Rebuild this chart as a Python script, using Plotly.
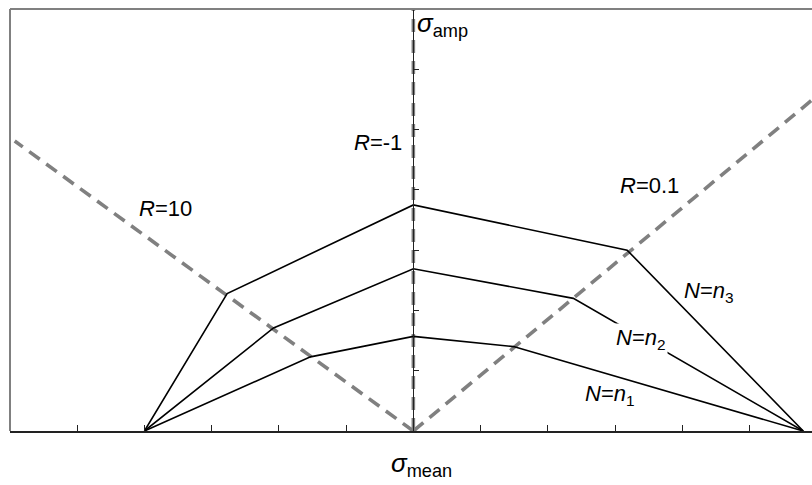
import plotly.graph_objects as go

# ---- data (units of axis ticks) ----
n3_x = [-4.0, -2.77, 0.0, 3.18, 5.80]
n3_y = [0.0, 2.28, 3.75, 3.00, 0.0]
n2_x = [-4.0, -2.08, 0.0, 2.38, 5.80]
n2_y = [0.0, 1.71, 2.69, 2.20, 0.0]
n1_x = [-4.0, -1.53, 0.0, 1.49, 5.80]
n1_y = [0.0, 1.23, 1.57, 1.40, 0.0]

r10_x = [0.0, -5.93]
r10_y = [0.0, 4.81]
r01_x = [0.0, 5.93]
r01_y = [0.0, 5.49]
rm1_x = [0.0, 0.0]
rm1_y = [0.0, 7.0]

x_range = [-6.0, 5.93]
y_range = [0.0, 7.0]

FONT = "Liberation Sans, Arial, sans-serif"
GRAY = "#808080"

fig = go.Figure()

for xs, ys in [(r10_x, r10_y), (r01_x, r01_y), (rm1_x, rm1_y)]:
    fig.add_trace(go.Scatter(x=xs, y=ys, mode="lines",
                             line=dict(color=GRAY, width=3.6, dash="13px,8px"),
                             hoverinfo="skip", showlegend=False))

for xs, ys in [(n1_x, n1_y), (n2_x, n2_y), (n3_x, n3_y)]:
    fig.add_trace(go.Scatter(x=xs, y=ys, mode="lines",
                             line=dict(color="black", width=1.6),
                             hoverinfo="skip", showlegend=False))

y_pos = (0 - x_range[0]) / (x_range[1] - x_range[0])

fig.update_layout(
    width=812, height=485, autosize=False,
    margin=dict(l=10, r=0, t=9, b=54),
    plot_bgcolor="white", paper_bgcolor="white",
    font=dict(family=FONT, size=22, color="black"),
    xaxis=dict(range=x_range, showgrid=False, zeroline=False,
               showline=True, linecolor="#222", linewidth=1.5,
               ticks="inside", ticklen=6, tickcolor="#222", tickwidth=1,
               tick0=0, dtick=1, showticklabels=False),
    yaxis=dict(range=y_range, showgrid=False, zeroline=False,
               anchor="free", position=y_pos, side="right",
               showline=True, linecolor="#222", linewidth=1.2,
               ticks="outside", ticklen=5, tickcolor="#222", tickwidth=1,
               tick0=0, dtick=1, showticklabels=False),
    shapes=[
        dict(type="line", xref="paper", yref="paper", x0=0, x1=0, y0=0, y1=1,
             line=dict(color=GRAY, width=2)),
        dict(type="line", xref="paper", yref="paper", x0=0, x1=1, y0=1, y1=1,
             line=dict(color=GRAY, width=2)),
    ],
)

ann = [
    dict(text="<i>σ</i><sub>amp</sub>", x=0.03, y=6.74, yref="y", xanchor="left",
         yanchor="middle", size=26),
    dict(text="<i>σ</i><sub>mean</sub>", x=0.12, y=-0.08, yref="paper", xanchor="center",
         yanchor="middle", size=26),
    dict(text="<i>R</i>=-1", x=-0.14, y=4.79, yref="y", xanchor="right", yanchor="middle", size=22),
    dict(text="<i>R</i>=10", x=-3.68, y=3.69, yref="y", xanchor="center", yanchor="middle", size=22),
    dict(text="<i>R</i>=0.1", x=3.98, y=4.08, yref="y", xanchor="right", yanchor="middle", size=22),
    dict(text="<i>N</i>=<i>n</i><sub>3</sub>", x=4.0, y=2.30, yref="y", xanchor="left",
         yanchor="middle", size=22),
    dict(text="<i>N</i>=<i>n</i><sub>2</sub>", x=2.98, y=1.52, yref="y", xanchor="left",
         yanchor="middle", size=22, bgcolor="white"),
    dict(text="<i>N</i>=<i>n</i><sub>1</sub>", x=2.53, y=0.60, yref="y", xanchor="left",
         yanchor="middle", size=22),
]
for a in ann:
    size = a.pop("size")
    fig.add_annotation(showarrow=False, xref="x",
                       font=dict(family=FONT, size=size, color="black"), **a)

fig.write_html("out.html")
